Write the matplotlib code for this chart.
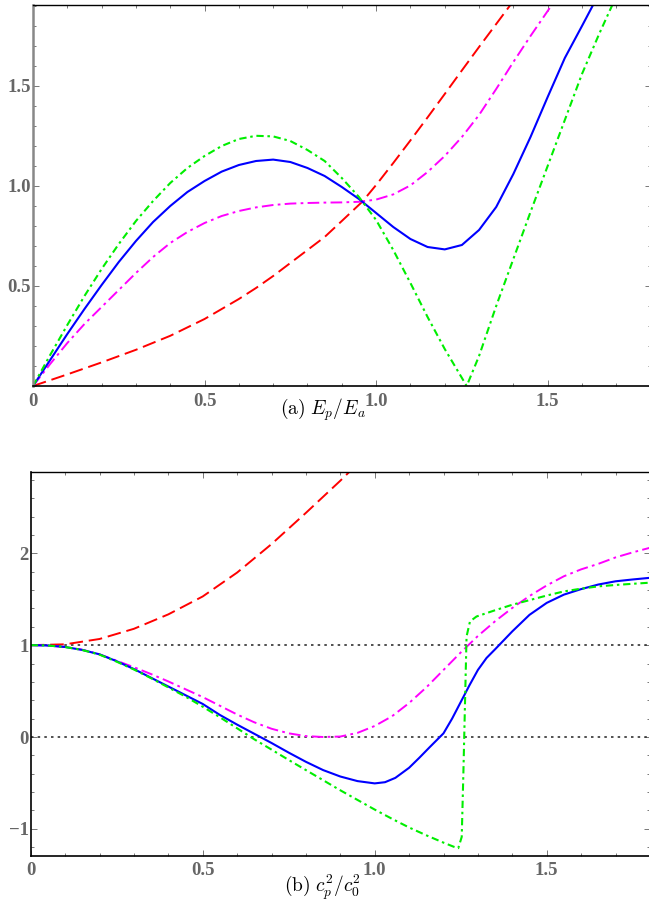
import matplotlib
matplotlib.use("Agg")
import matplotlib.pyplot as plt
from matplotlib.ticker import MultipleLocator

plt.rcParams['mathtext.fontset'] = 'cm'

# ---- top panel: E_p / E_a ----
blue_x = [0, 0.05, 0.1, 0.15, 0.2, 0.25, 0.3, 0.35, 0.4, 0.45, 0.5, 0.55, 0.6, 0.65, 0.7,
          0.75, 0.8, 0.85, 0.9, 0.95, 1.0, 1.05, 1.1, 1.15, 1.2, 1.25, 1.3, 1.35, 1.4,
          1.45, 1.5, 1.55, 1.6, 1.64]
blue_y = [0, 0.13, 0.26, 0.385, 0.505, 0.62, 0.725, 0.82, 0.90, 0.97, 1.025, 1.072, 1.105,
          1.125, 1.132, 1.12, 1.09, 1.05, 0.995, 0.935, 0.865, 0.795, 0.735, 0.695, 0.683,
          0.705, 0.78, 0.895, 1.06, 1.245, 1.445, 1.64, 1.80, 1.93]

green_x = [0, 0.05, 0.1, 0.15, 0.2, 0.25, 0.3, 0.35, 0.4, 0.45, 0.5, 0.55, 0.6, 0.65, 0.7,
           0.75, 0.8, 0.85, 0.9, 0.95, 1.0, 1.05, 1.1, 1.15, 1.2, 1.264, 1.3, 1.35, 1.4,
           1.45, 1.5, 1.55, 1.6, 1.65, 1.695]
green_y = [0, 0.155, 0.305, 0.45, 0.585, 0.71, 0.825, 0.925, 1.015, 1.09, 1.15, 1.2, 1.235,
           1.251, 1.248, 1.225, 1.18, 1.125, 1.04, 0.945, 0.83, 0.68, 0.515, 0.345, 0.185,
           0.0, 0.15, 0.40, 0.635, 0.87, 1.10, 1.33, 1.56, 1.76, 1.93]

magenta_x = [0, 0.05, 0.1, 0.15, 0.2, 0.25, 0.3, 0.35, 0.4, 0.45, 0.5, 0.55, 0.6, 0.65, 0.7,
             0.75, 0.8, 0.85, 0.9, 0.95, 1.0, 1.05, 1.1, 1.15, 1.2, 1.25, 1.3, 1.35, 1.4,
             1.45, 1.5, 1.53]
magenta_y = [0, 0.11, 0.215, 0.31, 0.395, 0.48, 0.565, 0.645, 0.715, 0.77, 0.815, 0.85, 0.875,
             0.893, 0.905, 0.912, 0.915, 0.917, 0.918, 0.921, 0.932, 0.958, 1.003, 1.07, 1.15,
             1.245, 1.355, 1.485, 1.62, 1.75, 1.875, 1.95]

red_x = [0, 0.1, 0.2, 0.3, 0.4, 0.5, 0.6, 0.65, 0.7, 0.75, 0.8, 0.85, 0.9, 0.96, 1.0, 1.05,
         1.1, 1.15, 1.2, 1.25, 1.3, 1.35, 1.4]
red_y = [0, 0.058, 0.118, 0.181, 0.251, 0.335, 0.435, 0.49, 0.55, 0.615, 0.68, 0.745, 0.825,
         0.922, 1.005, 1.115, 1.228, 1.343, 1.46, 1.578, 1.695, 1.81, 1.925]

# ---- bottom panel: c_p^2 / c_0^2 ----
blue2_x = [0, 0.05, 0.1, 0.15, 0.2, 0.25, 0.3, 0.35, 0.4, 0.45, 0.5, 0.55, 0.6, 0.65, 0.7,
           0.75, 0.8, 0.85, 0.9, 0.95, 1.0, 1.03, 1.06, 1.1, 1.13, 1.16, 1.2, 1.225, 1.25,
           1.275, 1.3, 1.325, 1.35, 1.4, 1.45, 1.5, 1.55, 1.6, 1.65, 1.7, 1.75, 1.8]
blue2_y = [1.0, 0.996, 0.98, 0.948, 0.9, 0.825, 0.74, 0.645, 0.55, 0.455, 0.36, 0.24, 0.135,
           0.035, -0.065, -0.17, -0.27, -0.36, -0.43, -0.48, -0.505, -0.492, -0.445, -0.335,
           -0.225, -0.11, 0.04, 0.2, 0.38, 0.56, 0.73, 0.86, 0.955, 1.15, 1.33, 1.46, 1.55,
           1.61, 1.66, 1.695, 1.715, 1.733]

green2_x = [0, 0.05, 0.1, 0.15, 0.2, 0.25, 0.3, 0.35, 0.4, 0.45, 0.5, 0.55, 0.6, 0.65, 0.7,
            0.75, 0.8, 0.85, 0.9, 0.95, 1.0, 1.05, 1.1, 1.15, 1.2, 1.23, 1.243, 1.253, 1.258,
            1.2625, 1.267, 1.277, 1.296, 1.35, 1.4, 1.45, 1.5, 1.55, 1.6, 1.65, 1.7, 1.75, 1.8]
green2_y = [1.0, 0.996, 0.98, 0.947, 0.897, 0.82, 0.735, 0.64, 0.54, 0.44, 0.33, 0.215, 0.095,
            -0.025, -0.137, -0.25, -0.36, -0.47, -0.58, -0.685, -0.79, -0.89, -0.985, -1.07,
            -1.15, -1.195, -1.21, -1.087, -0.36, 0.367, 1.094, 1.258, 1.312, 1.38, 1.44, 1.49,
            1.54, 1.585, 1.615, 1.64, 1.655, 1.668, 1.68]

magenta2_x = [0, 0.05, 0.1, 0.15, 0.2, 0.25, 0.3, 0.35, 0.4, 0.45, 0.5, 0.55, 0.6, 0.65, 0.7,
              0.75, 0.8, 0.85, 0.9, 0.95, 1.0, 1.05, 1.1, 1.15, 1.2, 1.25, 1.3, 1.35, 1.4,
              1.45, 1.5, 1.55, 1.6, 1.65, 1.7, 1.75, 1.8]
magenta2_y = [1.0, 0.996, 0.98, 0.95, 0.9, 0.83, 0.76, 0.685, 0.605, 0.52, 0.435, 0.34, 0.245,
              0.16, 0.09, 0.04, 0.01, 0.0, 0.005, 0.045, 0.12, 0.225, 0.37, 0.54, 0.73, 0.92,
              1.1, 1.26, 1.405, 1.535, 1.65, 1.75, 1.825, 1.885, 1.955, 2.01, 2.06]

red2_x = [0, 0.1, 0.2, 0.3, 0.4, 0.5, 0.6, 0.7, 0.8, 0.9, 0.93]
red2_y = [1.0, 1.009, 1.067, 1.178, 1.335, 1.53, 1.79, 2.1, 2.44, 2.79, 2.9]

ref_levels = [0, 1]

x_ticks = [0, 0.5, 1.0, 1.5]
x_ticklabels = ["0", "0.5", "1.0", "1.5"]
top_yticks = [0.5, 1.0, 1.5]
top_yticklabels = ["0.5", "1.0", "1.5"]
bot_yticks = [-1, 0, 1, 2]
bot_yticklabels = ["\u22121", "0", "1", "2"]

tick_font = dict(family="Liberation Serif", weight="bold", size=13.5, color="#666666")

fig = plt.figure(figsize=(6.49, 9.17), dpi=100)


def style_axes(ax, yticks, yticklabels, ymin, ymax, yminor, left_color, left_width):
    ax.set_xlim(0, 1.8)
    ax.set_ylim(ymin, ymax)
    ax.set_xticks(x_ticks)
    ax.set_xticklabels(x_ticklabels, fontdict=tick_font)
    ax.set_yticks(yticks)
    ax.set_yticklabels(yticklabels, fontdict=tick_font)
    ax.xaxis.set_minor_locator(MultipleLocator(0.1))
    ax.yaxis.set_minor_locator(MultipleLocator(yminor))
    ax.tick_params(which="both", direction="in", top=True, right=True, color="#777777", width=0.7)
    ax.tick_params(which="major", length=4.5)
    ax.tick_params(which="minor", length=2.5)
    ax.tick_params(axis="x", pad=5)
    ax.tick_params(axis="y", pad=1.5)
    ax.spines["right"].set_visible(False)
    ax.spines["top"].set_color("black")
    ax.spines["bottom"].set_color("black")
    ax.spines["top"].set_linewidth(1.0)
    ax.spines["bottom"].set_linewidth(1.2)
    ax.spines["left"].set_color(left_color)
    ax.spines["left"].set_linewidth(left_width)


# top panel
ax1 = fig.add_axes([33 / 649, 1 - 386 / 917, 617.6 / 649, 381 / 917])
ax1.plot(red_x, red_y, color="#ff0000", lw=1.4, ls=(0, (7, 3)))
ax1.plot(magenta_x, magenta_y, color="#ff00ff", lw=1.4, ls=(0, (6, 2.2, 1.4, 2.2)))
ax1.plot(blue_x, blue_y, color="#0000ff", lw=1.5, ls="-")
ax1.plot(green_x, green_y, color="#00ee00", lw=1.5, ls=(0, (3.5, 1.8, 1.2, 1.8)))
style_axes(ax1, top_yticks, top_yticklabels, 0, 1.905, 0.1, "#888888", 1.8)

# bottom panel
ax2 = fig.add_axes([30.7 / 649, 1 - 855.5 / 917, 619.2 / 649, 383.5 / 917])
for lev in ref_levels:
    ax2.axhline(lev, color="#333333", lw=1.2, ls=(0, (1.5, 2.5)))
ax2.plot(red2_x, red2_y, color="#ff0000", lw=1.4, ls=(0, (7, 3)))
ax2.plot(magenta2_x, magenta2_y, color="#ff00ff", lw=1.4, ls=(0, (6, 2.2, 1.4, 2.2)))
ax2.plot(blue2_x, blue2_y, color="#0000ff", lw=1.5, ls="-")
ax2.plot(green2_x, green2_y, color="#00ee00", lw=1.5, ls=(0, (3.5, 1.8, 1.2, 1.8)))
style_axes(ax2, bot_yticks, bot_yticklabels, -1.29, 2.885, 0.2, "black", 1.2)

fig.text(0.497, 1 - 410 / 917, r"$\mathrm{(a)}\ E_p/E_a$", ha="center", va="center", fontsize=14)
fig.text(0.497, 1 - 887 / 917, r"$\mathrm{(b)}\ c_p^2/c_0^2$", ha="center", va="center", fontsize=14)

fig.savefig("out.png", dpi=100)
